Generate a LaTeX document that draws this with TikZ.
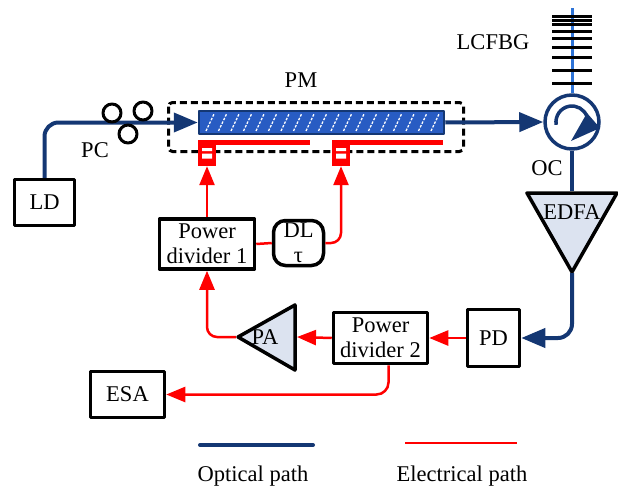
\documentclass[tikz,border=0pt]{standalone}
\usepackage{fontspec}
\setmainfont{Liberation Serif}
\usetikzlibrary{arrows.meta,positioning}
\definecolor{optblue}{RGB}{20,55,115}
\definecolor{barblue}{RGB}{40,92,195}
\definecolor{fbgblue}{RGB}{45,115,215}
\definecolor{ampfill}{RGB}{220,227,240}
\begin{document}
\begin{tikzpicture}[x=1pt,y=-1pt,line join=round,>={Triangle[length=19pt,width=15pt]}]
	\tikzset{every node/.style={font=\fontsize{22.5}{25}\selectfont},
		dev/.style={draw,line width=3.5pt,inner sep=0pt,align=center},
		opt/.style={optblue,line width=4pt},
		big/.style={-{Triangle[length=24pt,width=19pt]}},
		elec/.style={red,line width=2.5pt},
		amp/.style={draw,line width=3.5pt,fill=ampfill}}
	\useasboundingbox (0,0) rectangle (618,487);
	% boxes
	\node[dev,minimum width=60,minimum height=46] (ld) at (44.5,202.5) {LD};
	\node[dev,minimum width=95,minimum height=50] (pd1) at (207,244) {Power\\divider 1};
	\node[dev,rounded corners=12pt,minimum width=50,minimum height=45] (dl) at (298.5,243) {DL\\τ};
	\node[dev,minimum width=94,minimum height=51] (pd2) at (380.5,338) {Power\\divider 2};
	\node[dev,minimum width=52,minimum height=57] (pd) at (493.5,338) {PD};
	\node[dev,minimum width=74,minimum height=46] (esa) at (127.5,394.5) {ESA};
	% amplifiers
	\draw[amp] (527,193)--(617,193)--(572,272)--cycle;
	\node (edfa) at (572,212) {EDFA};
	\draw[amp] (238,337)--(295,305)--(295,370)--cycle;
	\node (pa) at (265,337) {PA};
	\coordinate (edfaT) at (572,191);
	\coordinate (edfaB) at (572,273);
	\coordinate (paL) at (236,337);
	\coordinate (paR) at (297,337);
	% phase modulator
	\draw[line width=3pt,dash pattern=on 7pt off 4pt,rounded corners=4pt] (168.5,102.5) rectangle (463.5,151.5);
	\node (pm) at (301,80) {PM};
	\node[draw=optblue,fill=barblue,line width=2.5pt,minimum width=245,minimum height=23,inner sep=0pt] (mod) at (321.5,122.5) {};
	\foreach \x in {206,218.5,...,436}
		\draw[white,line width=1.3pt,dash pattern=on 2.5pt off 1.5pt] (\x,131)--(\x+8,114);
	\draw[red,line width=5pt] (200,142)--(310,142) (332,142)--(443,142);
	\node[fill=red,minimum width=18,minimum height=26,inner sep=0pt] (rf1) at (207,153) {};
	\node[fill=red,minimum width=18,minimum height=26,inner sep=0pt] (rf2) at (341,153) {};
	\foreach \x in {207,341}
		\fill[white] (\x-5,148) rectangle (\x+5,151) (\x-5,153.5) rectangle (\x+5,158.5);
	% circulator and grating
	\node[circle,draw=optblue,line width=3.5pt,minimum size=54,inner sep=0pt] (oc) at (572,122) {};
	\node (ocl) at (547,168) {OC};
	\draw[optblue,line width=3.5pt] (556.2,124.8) arc[start angle=170,end angle=340,radius=16];
	\fill[optblue] (587,113)--(600,128)--(571,141)--cycle;
	\coordinate (fbgtop) at (572,8);
	\draw[fbgblue,line width=3pt] (oc.north)--(fbgtop);
	\foreach \y in {17,21,25,32,39,48,58,70,83}
		\draw[line width=3pt] (552,\y)--(592,\y);
	\node (lcfbg) at (493,42) {LCFBG};
	% optical path
	\draw[opt,big,rounded corners=14pt] (ld.north)|-(mod.west);
	\foreach \p in {(112,113),(143,111),(128,134)}
		\draw[line width=3pt] \p circle (9);
	\node (pc) at (95,150) {PC};
	\draw[opt,big] (mod.east)--(oc.west);
	\draw[opt] (oc.south)--(edfaT);
	\draw[opt,big,rounded corners=14pt] (edfaB)|-(pd.east);
	% electrical path
	\draw[elec,->] (pd.west)--(pd2.east);
	\draw[elec,->] (pd2.west)--(paR);
	\draw[elec,->,rounded corners=10pt] (paL)-|(pd1.south);
	\draw[elec,->] (pd1.north)--(rf1.south);
	\draw[elec] (pd1.east)--(dl.west);
	\draw[elec,->,rounded corners=10pt] (dl.east)-|(rf2.south);
	\draw[elec,->,rounded corners=12pt] ([xshift=8pt]pd2.south)|-(esa.east);
	% legend
	\coordinate (o1) at (200,445);
	\coordinate (o2) at (313,445);
	\coordinate (e1) at (405,443);
	\coordinate (e2) at (517,443);
	\draw[opt,line cap=round] (o1)--(o2);
	\draw[red,line width=2pt] (e1)--(e2);
	\node (optlbl) at (253,476) {Optical path};
	\node (elbl) at (462,476) {Electrical path};
\end{tikzpicture}
\end{document}
